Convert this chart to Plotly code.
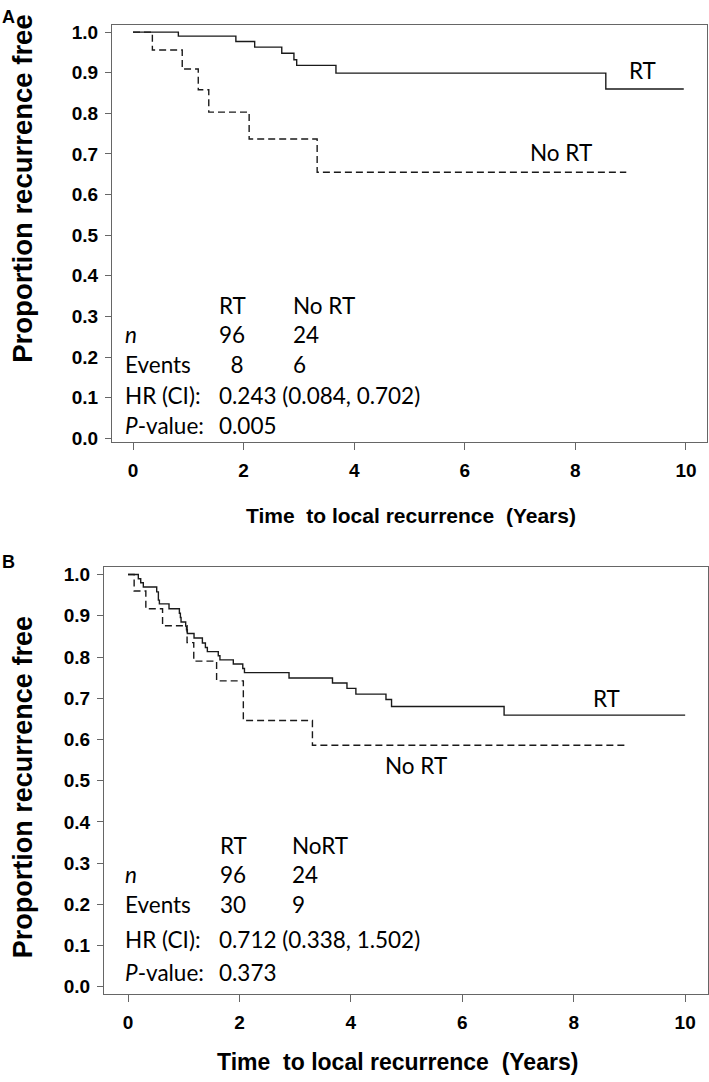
import plotly.graph_objects as go

W, H = 709, 1082

# ---------------- data ----------------
# Panel A
a_rt_t = [0, 0.82, 1.86, 2.20, 2.69, 2.91, 2.96, 3.67, 8.55, 9.96]
a_rt_s = [1.0, 0.990, 0.977, 0.963, 0.948, 0.932, 0.918, 0.899, 0.860, 0.860]
a_nort_t = [0, 0.35, 0.89, 1.18, 1.37, 2.10, 3.33, 8.92]
a_nort_s = [1.0, 0.956, 0.909, 0.858, 0.803, 0.737, 0.655, 0.655]

# Panel B
b_rt_t = [0, 0.185, 0.228, 0.275, 0.515, 0.545, 0.563, 0.736, 0.922, 0.94, 0.952,
          1.035, 1.05, 1.065, 1.185, 1.335, 1.389, 1.424, 1.62, 1.65, 1.89, 2.06,
          2.09, 2.89, 3.67, 3.93, 4.09, 4.63, 4.73, 6.75, 10.0]
b_rt_s = [1.0, 0.990, 0.980, 0.970, 0.958, 0.938, 0.929, 0.917, 0.906, 0.896, 0.885,
          0.875, 0.866, 0.857, 0.846, 0.834, 0.823, 0.813, 0.803, 0.793, 0.783, 0.772,
          0.762, 0.749, 0.737, 0.724, 0.710, 0.697, 0.680, 0.659, 0.659]
b_nort_t = [0, 0.11, 0.32, 0.62, 1.06, 1.18, 1.59, 2.07, 3.31, 8.98]
b_nort_s = [1.0, 0.960, 0.917, 0.876, 0.835, 0.790, 0.742, 0.646, 0.586, 0.586]

x_ticks = [0, 2, 4, 6, 8, 10]
y_ticks = [0.0, 0.1, 0.2, 0.3, 0.4, 0.5, 0.6, 0.7, 0.8, 0.9, 1.0]

# summary tables: header / n / events columns, then HR and P rows
row_labels = ["\u00a0", "<i>n</i>", "Events"]
a_col_rt = ["RT", "96", "\u00a0\u00a08"]
a_col_nort = ["No RT", "24", "6"]
a_hr = "0.243 (0.084, 0.702)"
a_p = "0.005"
b_col_rt = ["RT", "96", "30"]
b_col_nort = ["NoRT", "24", "9"]
b_hr = "0.712 (0.338, 1.502)"
b_p = "0.373"

# ---------------- styles ----------------
LINE_COL = "#1a1a1a"
AX_COL = "#666666"
BOLD = "Arial, Liberation Sans, Helvetica, sans-serif"
TXT = "Lato, Carlito, Calibri, sans-serif"
DASH = "7px,4px"
TS = 22.5


def px(x):
    return x / W


def py(y):
    return 1 - y / H


fig = go.Figure()

fig.add_trace(go.Scatter(x=a_rt_t, y=a_rt_s, mode="lines", line_shape="hv",
                         line=dict(color=LINE_COL, width=1.4), xaxis="x", yaxis="y",
                         showlegend=False, hoverinfo="skip"))
fig.add_trace(go.Scatter(x=a_nort_t, y=a_nort_s, mode="lines", line_shape="hv",
                         line=dict(color=LINE_COL, width=1.4, dash=DASH), xaxis="x", yaxis="y",
                         showlegend=False, hoverinfo="skip"))
fig.add_trace(go.Scatter(x=b_rt_t, y=b_rt_s, mode="lines", line_shape="hv",
                         line=dict(color=LINE_COL, width=1.4), xaxis="x2", yaxis="y2",
                         showlegend=False, hoverinfo="skip"))
fig.add_trace(go.Scatter(x=b_nort_t, y=b_nort_s, mode="lines", line_shape="hv",
                         line=dict(color=LINE_COL, width=1.4, dash=DASH), xaxis="x2", yaxis="y2",
                         showlegend=False, hoverinfo="skip"))


def xax(domain, rng, anchor, font, standoff):
    return dict(domain=domain, range=rng, anchor=anchor, tickvals=x_ticks,
                showgrid=False, zeroline=False, showline=True, mirror=True,
                linecolor=AX_COL, linewidth=1, ticks="outside", ticklen=7,
                tickcolor=AX_COL, tickwidth=1, tickfont=font, ticklabelstandoff=standoff)


def yax(domain, rng, anchor):
    return dict(domain=domain, range=rng, anchor=anchor, tickvals=y_ticks,
                tickformat=".1f", showgrid=False, zeroline=False, showline=True,
                mirror=True, linecolor=AX_COL, linewidth=1, ticks="outside",
                ticklen=6, tickcolor=AX_COL, tickwidth=1, ticklabelstandoff=3,
                tickfont=dict(family=BOLD, size=19, color="black", weight="bold"))


annotations = []


def txt(x, y, s, size=TS, family=TXT, anchor="left", angle=0, weight="normal"):
    annotations.append(dict(x=px(x), y=py(y), xref="paper", yref="paper", text=s,
                            showarrow=False, xanchor=anchor, yanchor="middle",
                            textangle=angle, borderpad=0, align="left",
                            font=dict(family=family, size=size, color="black", weight=weight)))


# Panel labels
txt(1, 14, "A", size=18, family=BOLD, weight="bold")
txt(1, 564, "B", size=18, family=BOLD, weight="bold")

# Axis titles
txt(22.5, 188, "Proportion recurrence free", size=27.5, family=BOLD, anchor="center",
    angle=-90, weight="bold")
txt(22.5, 792, "Proportion recurrence free", size=27, family=BOLD, anchor="center",
    angle=-90, weight="bold")
txt(411, 517, "Time\u00a0 to local recurrence\u00a0 (Years)", size=21, family=BOLD,
    anchor="center", weight="bold")
txt(397, 1069, "Time\u00a0 to local recurrence\u00a0 (Years)", size=23, family=BOLD,
    anchor="center", weight="bold")

# Curve labels
txt(628, 68, "RT")
txt(529, 151, "No RT")
txt(592, 702, "RT")
txt(384, 770, "No RT")

# Table A
txt(124, 335, "<br>".join(row_labels))
txt(218, 335, "<br>".join(a_col_rt))
txt(292, 335, "<br>".join(a_col_nort))
txt(124, 396, "HR (CI):")
txt(218, 396, a_hr)
txt(124, 426, "<i>P</i>-value:")
txt(218, 426, a_p)

# Table B
txt(124, 880, "<br>".join(row_labels))
txt(219, 880, "<br>".join(b_col_rt))
txt(291, 880, "<br>".join(b_col_nort))
txt(124, 945, "HR (CI):")
txt(218, 945, b_hr)
txt(124, 979, "<i>P</i>-value:")
txt(218, 979, b_p)

fig.update_layout(
    width=W, height=H, margin=dict(l=0, r=0, t=0, b=0),
    paper_bgcolor="white", plot_bgcolor="white", showlegend=False,
    xaxis=xax([px(112), px(707)], [-0.38, 10.38], "y",
              dict(family=BOLD, size=19, color="black", weight="bold"), 4),
    yaxis=yax([py(443), py(22)], [-0.009, 1.018], "x"),
    xaxis2=xax([px(104), px(708)], [-0.431, 10.41], "y2",
               dict(family=BOLD, size=19, color="black", weight="bold"), 4),
    yaxis2=yax([py(1000), py(569)], [-0.017, 1.019], "x2"),
    annotations=annotations,
)

fig.write_html("out.html", config={"displayModeBar": False},
               post_script="document.body.style.margin='0';document.body.style.padding='0';")
